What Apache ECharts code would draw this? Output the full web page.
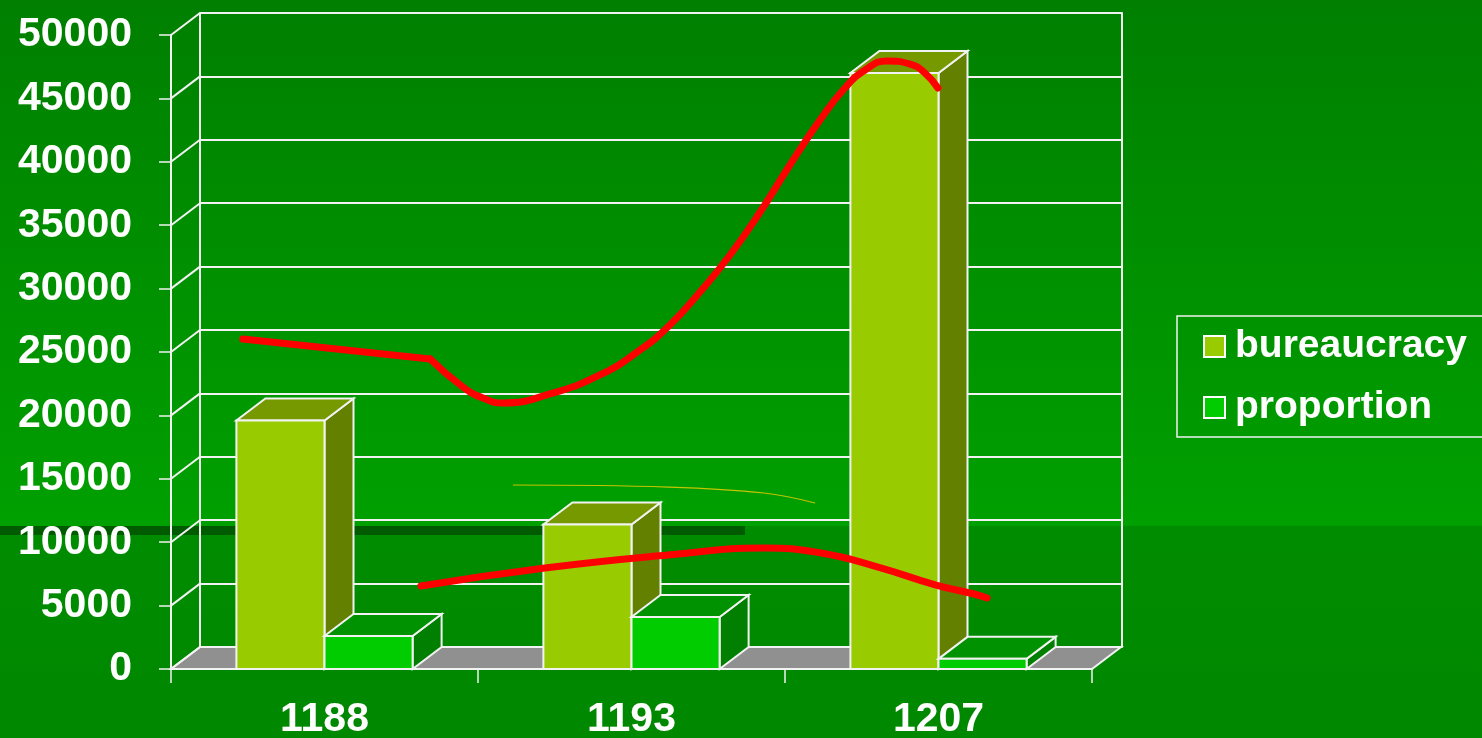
<!DOCTYPE html>
<html>
<head>
    <meta charset="utf-8" />
    <title>bureaucracy</title>
    <script src="https://cdn.jsdelivr.net/npm/echarts@6/dist/echarts.min.js"></script>
    <style>
        html, body { margin: 0; padding: 0; }
        #main { width: 1482px; height: 738px; }
    </style>
</head>
<body>
    <div id="main"></div>
    <script type="text/javascript">

    // 数据
    var years = ['1188', '1193', '1207'];
    var bureaucracy = [19600, 11400, 47000];
    var proportion = [2600, 4100, 800];
    var yTicks = [0, 5000, 10000, 15000, 20000, 25000, 30000, 35000, 40000, 45000, 50000];

    // red hand-drawn annotations, [position along x (0..3), value]
    var upperStraight = [[0.234, 26020], [0.844, 24450]];
    var upperCurve = [[0.844, 24450], [0.951, 22240], [1.016, 21370], [1.081, 20980], [1.234, 21690],
        [1.397, 23190], [1.528, 25160], [1.625, 27130], [1.723, 29730], [1.821, 32650],
        [1.919, 36040], [2.016, 39750], [2.114, 43290], [2.195, 45820], [2.261, 47240],
        [2.332, 47950], [2.407, 47710], [2.456, 47000], [2.498, 45820]];
    var lowerCurve = [[0.814, 6545], [1.218, 7965], [1.619, 8990], [1.932, 9540], [2.117, 9150],
        [2.303, 8040], [2.492, 6620], [2.616, 5915], [2.658, 5600]];
    var yellowLine = [[1.114, 14510], [1.619, 14350], [1.932, 13880], [2.098, 13090]];

    var DX = 29, DY = -22;   // depth of the 3d box
    var EDGE = '#f2f2f2';
    var FONT = '"Liberation Sans", Arial, sans-serif';

    var colorsB = { front: '#99cc00', top: '#779900', side: '#638000' };
    var colorsP = { front: '#00cc00', top: '#009200', side: '#007f00' };

    function barItem(side, c) {
        return function (params, api) {
            var cat = api.value(0);
            var top = api.coord([cat, api.value(1)]);
            var base = api.coord([cat, 0]);
            var w = api.size([1, 0])[0] * 0.287;
            var x0 = side === 0 ? top[0] - w : top[0];
            var x1 = x0 + w;
            var y0 = top[1], y1 = base[1];
            var st = { stroke: EDGE, lineWidth: 2 };
            return {
                type: 'group',
                children: [
                    { type: 'polygon', shape: { points: [[x1, y0], [x1 + DX, y0 + DY], [x1 + DX, y1 + DY], [x1, y1]] },
                      style: Object.assign({ fill: c.side }, st) },
                    { type: 'polygon', shape: { points: [[x0, y0], [x1, y0], [x1 + DX, y0 + DY], [x0 + DX, y0 + DY]] },
                      style: Object.assign({ fill: c.top }, st) },
                    { type: 'rect', shape: { x: x0, y: y0, width: w, height: y1 - y0 },
                      style: Object.assign({ fill: c.front }, st) }
                ]
            };
        };
    }

    var myChart = echarts.init(document.getElementById('main'));

    option = {
        animation: false,
        backgroundColor: {
            type: 'linear', x: 0, y: 0, x2: 0, y2: 1,
            colorStops: [
                { offset: 0, color: '#007f00' },
                { offset: 0.712, color: '#00a000' },
                { offset: 0.713, color: '#008c00' },
                { offset: 1, color: '#008800' }
            ]
        },
        graphic: [
            // dark stripe of the slide background
            { type: 'rect', z: -1, left: 0, top: 526, shape: { width: 745, height: 9 }, style: { fill: '#005a00' } }
        ],
        legend: {
            orient: 'vertical',
            left: 1177,
            top: 316,
            padding: [11, 16, 10, 26],
            borderColor: '#f2f2f2',
            borderWidth: 1.5,
            itemWidth: 21,
            itemHeight: 21,
            itemGap: 22,
            icon: 'rect',
            data: [
                { name: 'bureaucracy', itemStyle: { color: colorsB.front, borderColor: '#fff', borderWidth: 2 } },
                { name: 'proportion', itemStyle: { color: colorsP.front, borderColor: '#fff', borderWidth: 2 } }
            ],
            textStyle: { color: '#fff', fontSize: 39, fontWeight: 'bold', fontFamily: FONT, padding: [0, 0, 0, 5] }
        },
        grid: [
            { left: 171, right: 390, top: 35, bottom: 69, outerBoundsMode: 'none' },   // front plane
            { left: 200, right: 360, top: 13, bottom: 91, outerBoundsMode: 'none' }    // back wall
        ],
        xAxis: [
            {
                type: 'category', gridIndex: 0, data: years,
                axisLine: { lineStyle: { color: EDGE, width: 2 } },
                axisTick: { show: true, length: 14, interval: 0, lineStyle: { color: EDGE, width: 1.5 } },
                axisLabel: { color: '#fff', fontSize: 41, fontWeight: 'bold', fontFamily: FONT, margin: 30 },
                splitLine: { show: false }
            },
            { type: 'value', gridIndex: 0, min: 0, max: 3, show: false },
            { type: 'value', gridIndex: 1, min: 0, max: 3, show: false }
        ],
        yAxis: [
            {
                type: 'value', gridIndex: 0, min: 0, max: 50000, interval: 5000,
                axisLine: { show: true, lineStyle: { color: EDGE, width: 2 } },
                axisTick: { show: true, length: 12, lineStyle: { color: EDGE, width: 1.5 } },
                axisLabel: {
                    color: '#fff', fontSize: 41, fontWeight: 'bold', fontFamily: FONT, margin: 39,
                    formatter: function (v) { return String(v); }
                },
                splitLine: { show: false }
            },
            {
                type: 'value', gridIndex: 1, min: 0, max: 50000, interval: 5000,
                axisLine: { show: true, lineStyle: { color: EDGE, width: 2 } },
                axisTick: { show: false }, axisLabel: { show: false },
                splitLine: { show: true, lineStyle: { color: EDGE, width: 2 } }
            },
            {
                type: 'value', gridIndex: 1, min: 0, max: 50000, interval: 5000, position: 'right',
                axisLine: { show: true, lineStyle: { color: EDGE, width: 2 } },
                axisTick: { show: false }, axisLabel: { show: false }, splitLine: { show: false }
            }
        ],
        series: [
            {
                // floor
                type: 'custom', xAxisIndex: 1, yAxisIndex: 0, z: 1, silent: true,
                data: [[0, 0]],
                renderItem: function (params, api) {
                    var a = api.coord([0, 0]), b = api.coord([3, 0]);
                    return {
                        type: 'polygon',
                        shape: { points: [a, b, [b[0] + DX, b[1] + DY], [a[0] + DX, a[1] + DY]] },
                        style: { fill: '#909090', stroke: EDGE, lineWidth: 2 }
                    };
                }
            },
            {
                // left wall diagonals
                type: 'custom', xAxisIndex: 1, yAxisIndex: 0, z: 1, silent: true,
                data: yTicks.map(function (v) { return [0, v]; }),
                renderItem: function (params, api) {
                    var p = api.coord([0, api.value(1)]);
                    return {
                        type: 'line',
                        shape: { x1: p[0], y1: p[1], x2: p[0] + DX, y2: p[1] + DY },
                        style: { stroke: EDGE, lineWidth: 2 }
                    };
                }
            },
            {
                name: 'bureaucracy', type: 'custom', xAxisIndex: 0, yAxisIndex: 0, z: 3,
                itemStyle: { color: colorsB.front },
                data: bureaucracy.map(function (v, i) { return [i, v]; }),
                renderItem: barItem(0, colorsB)
            },
            {
                name: 'proportion', type: 'custom', xAxisIndex: 0, yAxisIndex: 0, z: 4,
                itemStyle: { color: colorsP.front },
                data: proportion.map(function (v, i) { return [i, v]; }),
                renderItem: barItem(1, colorsP)
            },
            {
                type: 'line', xAxisIndex: 1, yAxisIndex: 0, z: 6, silent: true,
                data: yellowLine, smooth: 0.4, showSymbol: false,
                lineStyle: { color: '#c4c400', width: 1.2 }
            },
            {
                type: 'line', xAxisIndex: 1, yAxisIndex: 0, z: 7, silent: true,
                data: upperStraight, showSymbol: false,
                lineStyle: { color: '#ff0000', width: 7, cap: 'round', join: 'round' }
            },
            {
                type: 'line', xAxisIndex: 1, yAxisIndex: 0, z: 7, silent: true,
                data: upperCurve, smooth: 0.5, showSymbol: false,
                lineStyle: { color: '#ff0000', width: 7, cap: 'round', join: 'round' }
            },
            {
                type: 'line', xAxisIndex: 1, yAxisIndex: 0, z: 7, silent: true,
                data: lowerCurve, smooth: 0.5, showSymbol: false,
                lineStyle: { color: '#ff0000', width: 7, cap: 'round', join: 'round' }
            }
        ]
    };

    myChart.setOption(option);
    </script>
</body>
</html>
